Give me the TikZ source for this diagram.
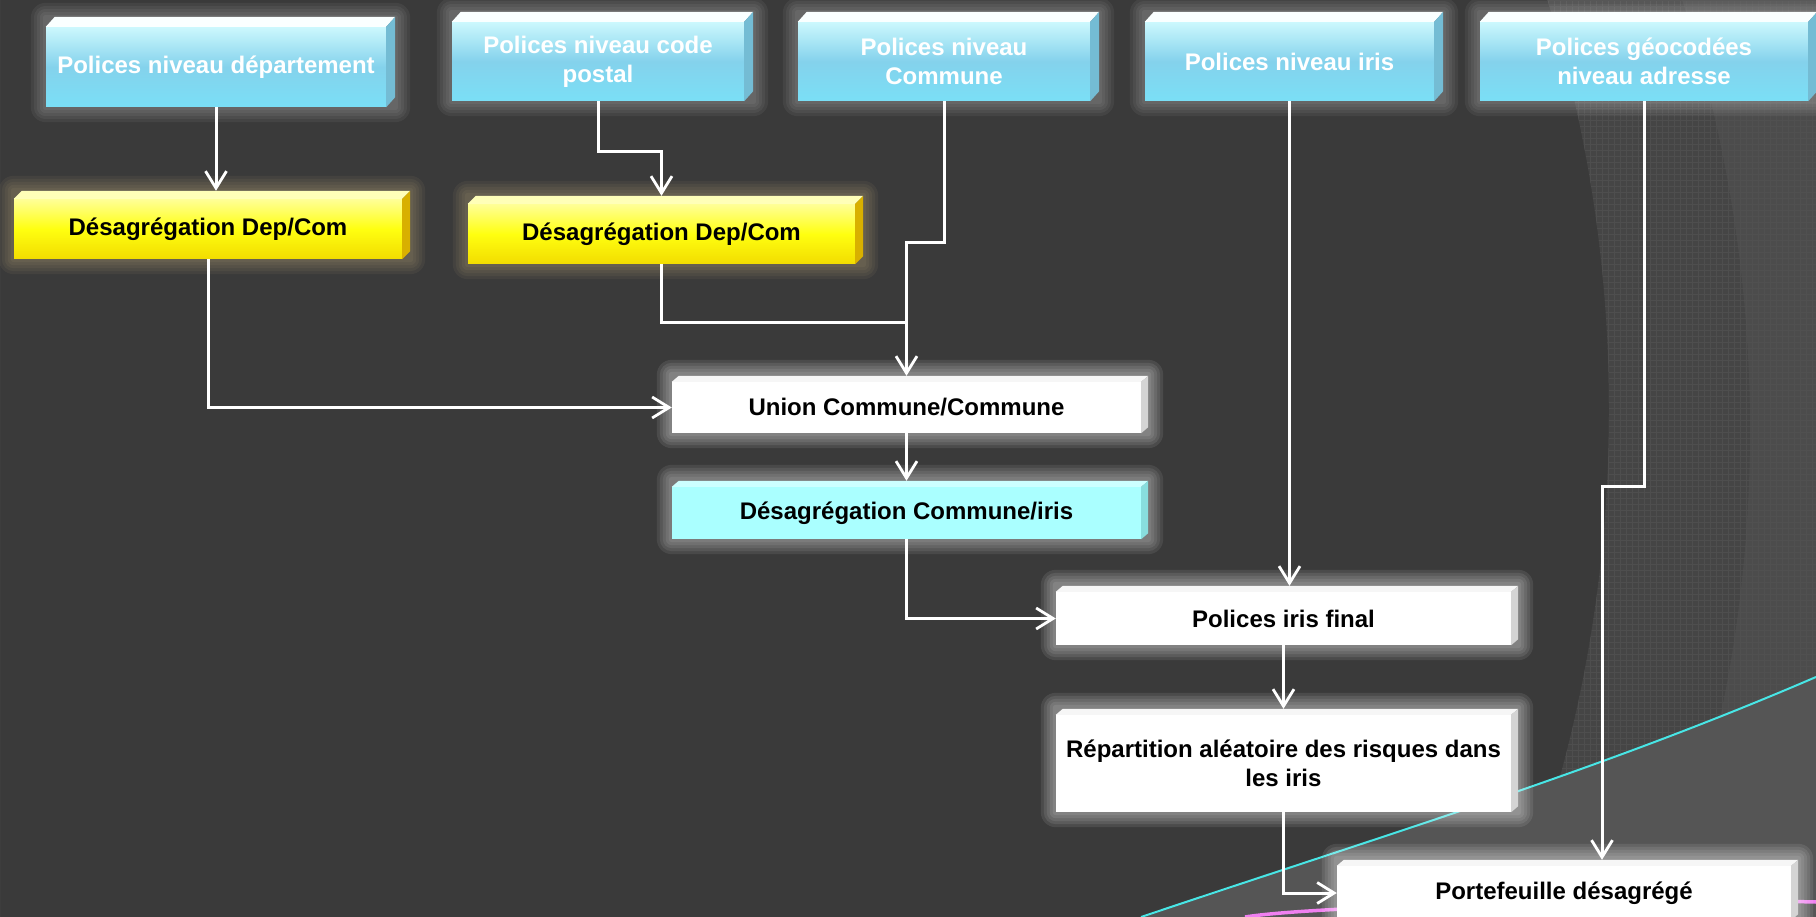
\documentclass[tikz,border=0pt]{standalone}
\usepackage{fontspec}
\setmainfont{Liberation Sans}
\usetikzlibrary{arrows.meta,calc}
\definecolor{bgdark}{HTML}{3A3A3A}
\definecolor{bgmid}{HTML}{454545}
\definecolor{bglight}{HTML}{4C4C4C}
\definecolor{bgbottom}{HTML}{555555}
\definecolor{gridc}{HTML}{535353}
\definecolor{cyanline}{HTML}{48E6E6}
\definecolor{pinkline}{HTML}{F080F0}
\definecolor{blueTop}{HTML}{CCF8FD}
\definecolor{blueMid}{HTML}{84D2EC}
\definecolor{blueBot}{HTML}{7ADFF6}
\definecolor{blueFace}{HTML}{FAFFFF}
\definecolor{blueSide}{HTML}{74BCD4}
\definecolor{yelTop}{HTML}{FFFF98}
\definecolor{yelMid}{HTML}{FFFF10}
\definecolor{yelBot}{HTML}{F2DC00}
\definecolor{yelFace}{HTML}{FFFFB8}
\definecolor{yelSide}{HTML}{D8B000}
\definecolor{cyanBox}{HTML}{AAFFFF}
\definecolor{cyanFace}{HTML}{CCFFFF}
\definecolor{cyanSide}{HTML}{88DDDD}
\definecolor{whiteFace}{HTML}{F6F6F6}
\definecolor{whiteSide}{HTML}{D4D4D4}
\definecolor{glowYel}{HTML}{E8D090}

\pgfdeclarelayer{bglayer}
\pgfdeclarelayer{glowlayer}
\pgfsetlayers{bglayer,glowlayer,main}

\newcommand{\mybevel}[5]{%
  \fill[#4] (#1.north west) -- ++(#2pt,#3pt) -- ([shift={(#2pt,#3pt)}]#1.north east) -- (#1.north east) -- cycle;
  \fill[#5] (#1.north east) -- ++(#2pt,#3pt) -- ([shift={(#2pt,#3pt)}]#1.south east) -- (#1.south east) -- cycle;}

\newcommand{\myglow}[4]{%
  \begin{pgfonlayer}{glowlayer}
  \foreach \g in {3,6,9,12,15}{
    \fill[#2, opacity=#3, rounded corners=\g pt] ([shift={(-\g pt,-\g pt)}]#1.south west) rectangle ([shift={(\g pt+#4pt,\g pt+#4pt)}]#1.north east);
  }
  \end{pgfonlayer}}

\tikzset{
  base/.style={rectangle, inner sep=0pt, align=center, font=\fontsize{24}{29}\selectfont\bfseries},
  topbox/.style={base, text=white, top color=blueTop, bottom color=blueBot, middle color=blueMid},
  yelbox/.style={base, text=black, top color=yelTop, bottom color=yelBot, middle color=yelMid},
  whitebox/.style={base, text=black, fill=white},
  cyanbox/.style={base, text=black, fill=cyanBox},
  conn/.style={draw=white, line width=3pt, -{Straight Barb[length=17pt,width=21pt,line width=2.8pt]}},
  plain/.style={draw=white, line width=3pt}
}

\begin{document}
\begin{tikzpicture}[x=1pt,y=-1pt]
\useasboundingbox (0,0) rectangle (1816,917);

\begin{pgfonlayer}{bglayer}
  \fill[bgdark] (0,0) rectangle (1816,917);
  \fill[bgmid, even odd rule] (0,0) rectangle (1816,917) (222,410) circle[radius=1387];
  \fill[bglight, even odd rule] (0,0) rectangle (1816,917) (363,430) circle[radius=1387];
  \begin{scope}[even odd rule]
    \clip (0,0) rectangle (1816,917) (222,410) circle[radius=1387];
    \draw[gridc, line width=0.5pt, opacity=0.7, step=6pt] (1450,0) grid (1816,917);
  \end{scope}
  \fill[bgbottom] (1141,917) .. controls (1400,830) and (1600,770) .. (1816,677) -- (1816,917) -- cycle;
  \draw[cyanline, line width=2pt] (1141,917) .. controls (1400,830) and (1600,770) .. (1816,677);
  \draw[pinkline, line width=3.5pt] (1245,917) .. controls (1320,905) and (1650,898) .. (1816,902);
\end{pgfonlayer}

% top row
\node[topbox, minimum width=340pt, minimum height=80pt] (B1) at (216,67) {Polices niveau département};
\node[topbox, minimum width=292pt, minimum height=79pt] (B2) at (598,61.5) {Polices niveau code\\postal};
\node[topbox, minimum width=292pt, minimum height=79pt] (B3) at (944,61.5) {Polices niveau\\Commune};
\node[topbox, minimum width=289pt, minimum height=79pt] (B4) at (1289.5,61.5) {Polices niveau iris};
\node[topbox, minimum width=328pt, minimum height=79pt] (B5) at (1644,61.5) {Polices géocodées\\niveau adresse};
\foreach \n in {B1,B2,B3,B4,B5}{
  \mybevel{\n}{9}{10}{blueFace}{blueSide}
  \myglow{\n}{white}{0.05}{9}
}

% yellow
\node[yelbox, minimum width=388pt, minimum height=60pt] (Y1) at (208,229) {Désagrégation Dep/Com};
\node[yelbox, minimum width=387pt, minimum height=60pt] (Y2) at (661.5,234) {Désagrégation Dep/Com};
\foreach \n in {Y1,Y2}{
  \mybevel{\n}{8}{8}{yelFace}{yelSide}
  \myglow{\n}{glowYel}{0.06}{8}
}

% lower boxes
\node[whitebox, minimum width=469pt, minimum height=51pt] (U) at (906.5,407.5) {Union Commune/Commune};
\node[cyanbox, minimum width=469pt, minimum height=52pt] (D) at (906.5,513) {Désagrégation Commune/iris};
\node[whitebox, minimum width=455pt, minimum height=53pt] (PIF) at (1283.5,618.5) {Polices iris final};
\node[whitebox, minimum width=455pt, minimum height=97pt] (Rep) at (1283.5,763.5) {Répartition aléatoire des risques dans\\les iris};
\node[whitebox, minimum width=454pt, minimum height=54pt] (Port) at (1564,893) {Portefeuille désagrégé};
\foreach \n in {U,PIF,Rep,Port}{
  \mybevel{\n}{7}{6}{whiteFace}{whiteSide}
  \myglow{\n}{white}{0.09}{7}
}
\mybevel{D}{7}{6}{cyanFace}{cyanSide}
\myglow{D}{white}{0.08}{7}

% junction coordinates
\coordinate (J) at (906.5,323);
\coordinate (K) at (1602,486);

% connectors
\draw[conn] (B1.south) -- ($(B1.south |- Y1.north)+(0,-8)$);
\draw[conn] (B2.south) -- ++(0,50) -| ($(Y2.north)+(0,-8)$);
\draw[conn] (B3.south) -- ++(0,141) -| ($(U.north)+(0,-6)$);
\draw[plain] (Y2.south) |- (J);
\draw[conn] (Y1.south) |- (U.west);
\draw[conn] (U.south) -- ($(D.north)+(0,-6)$);
\draw[conn] (D.south) |- (PIF.west);
\draw[conn] (B4.south) -- ($(B4.south |- PIF.north)+(0,-6)$);
\draw[conn] (PIF.south) -- ($(Rep.north)+(0,-6)$);
\draw[conn] (Rep.south) |- (Port.west);
\draw[conn] (B5.south) |- (K) -- ($(K |- Port.north)+(0,-6)$);
\end{tikzpicture}
\end{document}
